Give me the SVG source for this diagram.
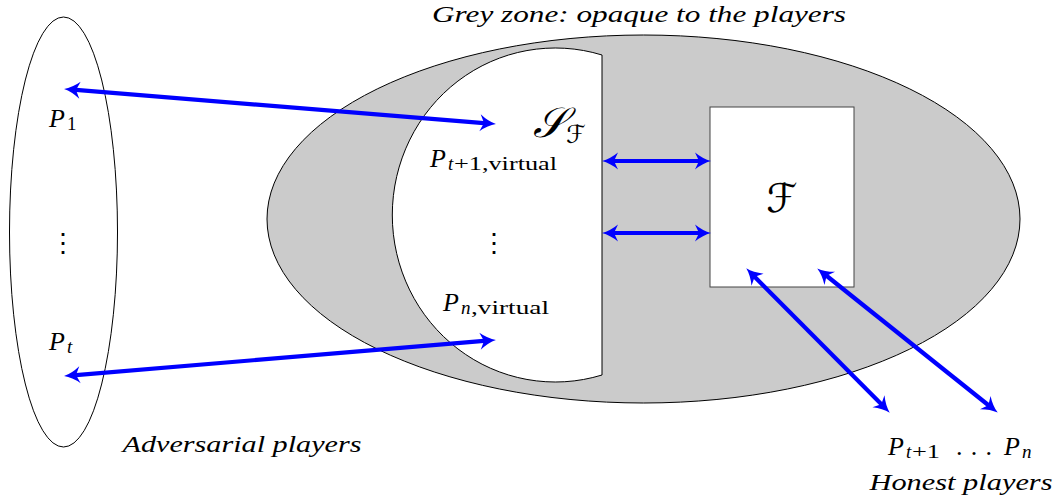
<svg xmlns="http://www.w3.org/2000/svg" width="1061" height="503" viewBox="0 0 1061 503">
<style>
.it{font-family:"Liberation Serif",serif;font-style:italic;fill:#000}
.rm{font-family:"Liberation Serif",serif;fill:#000}
.sc{font-family:"DejaVu Serif","DejaVu Sans","Noto Sans",serif;fill:#000}
.conn{stroke:#0000ff;stroke-width:4.2;fill:none;marker-start:url(#ah);marker-end:url(#ah)}
.outline{stroke:#000;stroke-width:1;}
</style>
<defs>
<marker id="ah" markerUnits="userSpaceOnUse" viewBox="-10 -10 20 20" refX="0" refY="0" markerWidth="20" markerHeight="20" orient="auto-start-reverse" overflow="visible">
<path d="M9,0 Q1,-2 -7,-8.5 L-3,0 L-7,8.5 Q1,2 9,0 Z" fill="#0000ff"/>
</marker>
</defs>
<g id="adversary-group">
<ellipse cx="63.5" cy="232" rx="54" ry="215" fill="none" class="outline"/>
<text class="it" x="49" y="127" font-size="26">P</text><text class="rm" x="67" y="130" font-size="19">1</text>
<text class="rm" x="63" y="252" font-size="26" text-anchor="middle">⋮</text>
<text class="it" x="49" y="350" font-size="26">P</text><text class="it" x="67" y="353" font-size="19">t</text>
<text class="it" x="242" y="452" font-size="24" text-anchor="middle" textLength="239" lengthAdjust="spacingAndGlyphs">Adversarial players</text>
</g>
<g id="grey-zone">
<ellipse cx="643.5" cy="219" rx="376.5" ry="184" fill="#cbcbcb" class="outline"/>
<text class="it" x="639" y="22" font-size="24" text-anchor="middle" textLength="414" lengthAdjust="spacingAndGlyphs">Grey zone: opaque to the players</text>
</g>
<g id="simulator">
<path d="M602,55 L602,375 A163,167 0 1 1 602,55 Z" fill="#fff" class="outline"/>
<text class="sc" x="533" y="137" font-size="42" font-style="italic">𝒮</text><text class="sc" x="566" y="143" font-size="25">ℱ</text>
<text class="it" x="430" y="167" font-size="26">P</text><text class="it" x="448" y="170" font-size="19">t</text><text class="rm" x="454" y="170" font-size="19" textLength="103" lengthAdjust="spacingAndGlyphs">+1,virtual</text>
<text class="rm" x="494" y="252" font-size="26" text-anchor="middle">⋮</text>
<text class="it" x="443" y="311" font-size="26">P</text><text class="it" x="461" y="314" font-size="19">n</text><text class="rm" x="471" y="314" font-size="19" textLength="78" lengthAdjust="spacingAndGlyphs">,virtual</text>
</g>
<g id="functionality">
<rect x="710" y="107" width="144" height="180" fill="#fff" stroke="#444" stroke-width="1"/>
<text class="sc" x="782" y="212" font-size="40" text-anchor="middle">ℱ</text>
</g>
<g id="honest-group">
<text class="it" x="888" y="455" font-size="26">P</text><text class="it" x="906" y="458" font-size="19">t</text><text class="rm" x="912" y="458" font-size="19" textLength="28" lengthAdjust="spacingAndGlyphs">+1</text>
<text class="rm" x="956" y="455" font-size="26" textLength="36" lengthAdjust="spacing">. . .</text>
<text class="it" x="1004" y="455" font-size="26">P</text><text class="it" x="1022" y="458" font-size="19">n</text>
<text class="it" x="961" y="490" font-size="24" text-anchor="middle" textLength="183" lengthAdjust="spacingAndGlyphs">Honest players</text>
</g>
<g id="connectors">
<line class="conn" x1="73" y1="89.65" x2="487" y2="123.35"/>
<line class="conn" x1="73" y1="375.3" x2="487" y2="340.7"/>
<line class="conn" x1="611" y1="161" x2="702" y2="161"/>
<line class="conn" x1="611" y1="233" x2="702" y2="233"/>
<line class="conn" x1="752.6" y1="274.7" x2="883.4" y2="406.3"/>
<line class="conn" x1="824.3" y1="274" x2="990.7" y2="407"/>
</g>
</svg>
